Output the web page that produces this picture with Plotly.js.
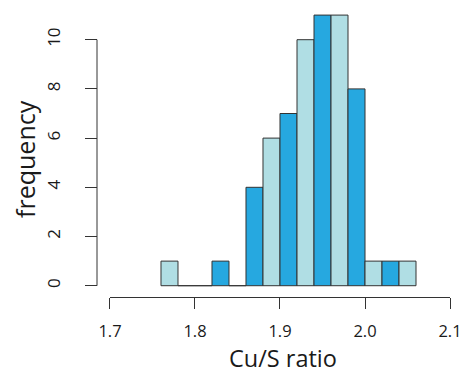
<!DOCTYPE html>
<html>
<head>
<meta charset="utf-8">
<script src="https://cdn.plot.ly/plotly-3.0.1.min.js"></script>
<style>html,body{margin:0;padding:0;background:#fff;}#chart{width:463px;height:376px;}</style>
</head>
<body>
<div id="chart"></div>
<script>
// Histogram bins (left edges) of Cu/S ratio, bin width 0.02
var binLefts = [1.76, 1.78, 1.80, 1.82, 1.84, 1.86, 1.88, 1.90, 1.92, 1.94, 1.96, 1.98, 2.00, 2.02, 2.04];
var counts   = [1,    0,    0,    1,    0,    4,    6,    7,    10,   11,   11,   8,    1,    1,    1];
var binWidth = 0.02;
var xTickVals = [1.7, 1.8, 1.9, 2.0, 2.1];
var xTickText = ['1.7', '1.8', '1.9', '2.0', '2.1'];
var yTickVals = [0, 2, 4, 6, 8, 10];
var yTickText = ['0', '2', '4', '6', '8', '10'];
var xTitle = 'Cu/S ratio';
var yTitle = 'frequency';
var lightColor = '#B0DEE4';
var darkColor = '#26A8E0';

var centers = binLefts.map(function (l) { return l + binWidth / 2; });
var colors = binLefts.map(function (l, i) { return i % 2 === 0 ? lightColor : darkColor; });

var font = 'Open Sans, Noto Sans, sans-serif';
var txt = '#1a1a1a';
var data = [{
  type: 'bar',
  x: centers,
  y: counts,
  width: binWidth,
  marker: {color: colors, line: {color: '#333333', width: 1}},
  hoverinfo: 'x+y'
}];

var layout = {
  width: 463, height: 376,
  margin: {l: 97, r: 13, t: 10, b: 79, pad: 0},
  paper_bgcolor: '#ffffff', plot_bgcolor: '#ffffff',
  showlegend: false,
  font: {family: font, color: txt},
  xaxis: {
    domain: [0.0368, 1],
    range: [1.7, 2.1],
    tickvals: xTickVals, ticktext: xTickText,
    ticks: 'outside', ticklen: 11, tickwidth: 1, tickcolor: '#333333',
    showline: true, linecolor: '#333333', linewidth: 1,
    showgrid: false, zeroline: false,
    tickfont: {size: 16.5, family: font, color: txt},
    ticklabelstandoff: 8
  },
  yaxis: {
    anchor: 'free', position: 0,
    range: [-0.459, 11.207],
    tickvals: yTickVals, ticktext: yTickText,
    tickangle: -90,
    ticks: 'outside', ticklen: 12, tickwidth: 1, tickcolor: '#333333',
    showline: false, showgrid: false, zeroline: false,
    tickfont: {size: 17, family: font, color: txt},
    ticklabelstandoff: 18
  },
  annotations: [
    {text: xTitle, xref: 'paper', yref: 'paper', x: 0.528, y: -0.2735,
     xanchor: 'center', yanchor: 'bottom', showarrow: false, borderpad: 0,
     font: {size: 23.5, family: font, color: txt}},
    {text: yTitle, xref: 'paper', yref: 'paper', x: -0.204, y: 0.481,
     xanchor: 'center', yanchor: 'middle', textangle: -90, showarrow: false,
     font: {size: 25, family: font, color: txt}}
  ],
  shapes: [{
    type: 'line', xref: 'paper', yref: 'y',
    x0: 0, x1: 0, y0: yTickVals[0], y1: yTickVals[yTickVals.length - 1],
    line: {color: '#333333', width: 1}
  }]
};

Plotly.newPlot('chart', data, layout, {staticPlot: true, displayModeBar: false});
</script>
</body>
</html>
